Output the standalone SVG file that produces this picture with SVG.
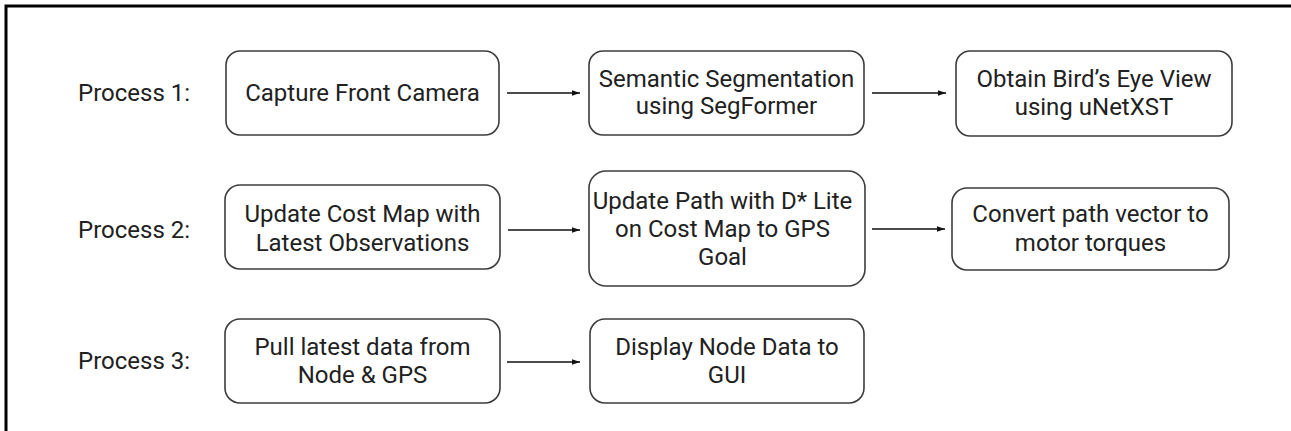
<svg xmlns="http://www.w3.org/2000/svg" width="1291" height="431" viewBox="0 0 1291 431">
<style>
  .box { fill: #ffffff; stroke: #3c3c3c; stroke-width: 1.6; }
  .t { font-family: Roboto, "Liberation Sans", sans-serif; font-size: 24px; fill: #212121; text-anchor: middle; }
  .lbl { font-family: Roboto, "Liberation Sans", sans-serif; font-size: 24px; fill: #212121; text-anchor: start; }
  .conn { stroke: #111111; stroke-width: 1.4; fill: none; marker-end: url(#arr); }
  .frame { stroke: #000000; stroke-width: 3; fill: none; }
</style>
<defs>
  <marker id="arr" markerUnits="userSpaceOnUse" markerWidth="9" markerHeight="7" refX="8.5" refY="3.5" orient="auto">
    <path d="M0,0.5 L8.5,3.5 L0,6.5 z" fill="#111111"/>
  </marker>
</defs>
<rect x="0" y="0" width="1291" height="431" fill="#ffffff"/>
<path class="frame" d="M6,431 V6 H1291"/>

<g id="labels">
  <text class="lbl" x="78" y="101">Process 1:</text>
  <text class="lbl" x="78" y="238">Process 2:</text>
  <text class="lbl" x="78" y="369">Process 3:</text>
</g>

<g id="node-capture">
  <rect class="box" x="226" y="51" width="273" height="84" rx="14"/>
  <text class="t" x="362.5" y="101">Capture Front Camera</text>
</g>
<g id="node-segmentation">
  <rect class="box" x="589" y="51" width="275" height="84" rx="14"/>
  <text class="t" x="726.5" y="87">Semantic Segmentation</text>
  <text class="t" x="726.5" y="114">using SegFormer</text>
</g>
<g id="node-birdseye">
  <rect class="box" x="956" y="51" width="276" height="85" rx="14"/>
  <text class="t" x="1094" y="87">Obtain Bird’s Eye View</text>
  <text class="t" x="1094" y="115">using uNetXST</text>
</g>

<g id="node-costmap">
  <rect class="box" x="225" y="185" width="275" height="84" rx="15"/>
  <text class="t" x="362.5" y="222">Update Cost Map with</text>
  <text class="t" x="362.5" y="251">Latest Observations</text>
</g>
<g id="node-dstar">
  <rect class="box" x="589" y="171" width="276" height="115" rx="17"/>
  <text class="t" x="722.5" y="209">Update Path with D* Lite</text>
  <text class="t" x="722.5" y="237">on Cost Map to GPS</text>
  <text class="t" x="722.5" y="265">Goal</text>
</g>
<g id="node-torques">
  <rect class="box" x="952" y="188" width="277" height="82" rx="15"/>
  <text class="t" x="1090.5" y="222">Convert path vector to</text>
  <text class="t" x="1090.5" y="251">motor torques</text>
</g>

<g id="node-pull">
  <rect class="box" x="225" y="319" width="275" height="84" rx="15"/>
  <text class="t" x="362.5" y="355">Pull latest data from</text>
  <text class="t" x="362.5" y="383">Node &amp; GPS</text>
</g>
<g id="node-display">
  <rect class="box" x="590" y="319" width="274" height="84" rx="15"/>
  <text class="t" x="727" y="355">Display Node Data to</text>
  <text class="t" x="727" y="383">GUI</text>
</g>

<g id="connectors">
  <line class="conn" x1="507" y1="93" x2="580" y2="93"/>
  <line class="conn" x1="872" y1="93" x2="946" y2="93"/>
  <line class="conn" x1="508" y1="230" x2="580" y2="230"/>
  <line class="conn" x1="872" y1="229" x2="945" y2="229"/>
  <line class="conn" x1="507" y1="362" x2="580" y2="362"/>
</g>
</svg>
